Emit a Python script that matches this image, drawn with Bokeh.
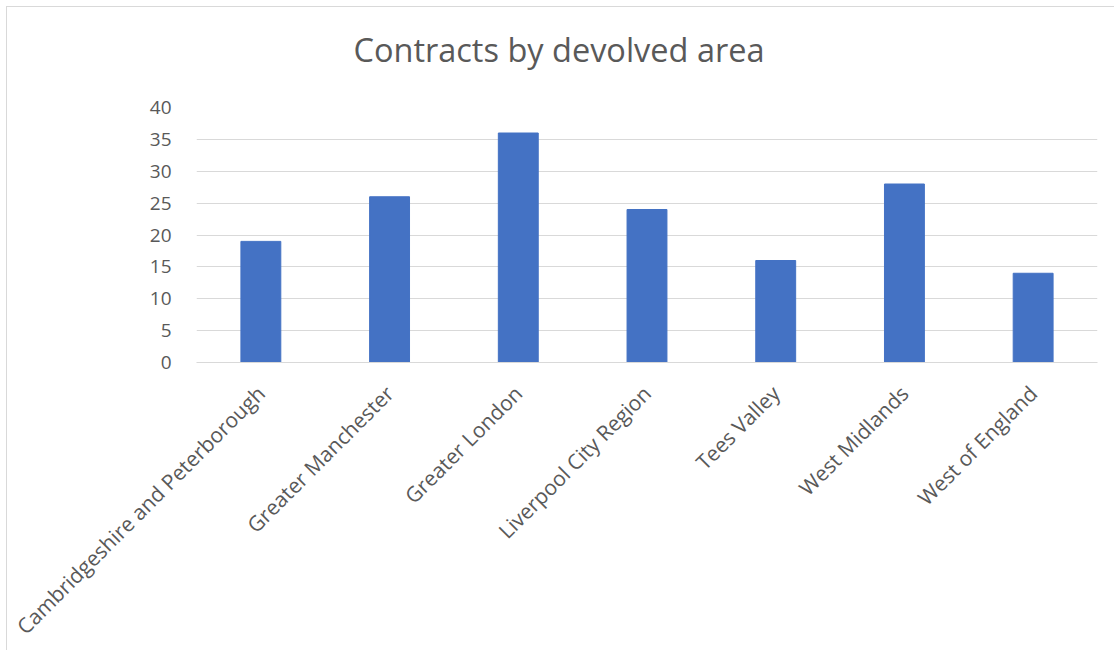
from math import pi
from bokeh.plotting import figure
from bokeh.models import ColumnDataSource, Range1d, FixedTicker, Div
from bokeh.layouts import column
from bokeh.embed import file_html
from bokeh.resources import INLINE

areas = ["Cambridgeshire and Peterborough", "Greater Manchester", "Greater London",
         "Liverpool City Region", "Tees Valley", "West Midlands", "West of England"]
contracts = [19, 26, 36, 24, 16, 28, 14]
y_ticks = [0, 5, 10, 15, 20, 25, 30, 35, 40]
title_text = "Contracts by devolved area"

FONT = "Open Sans"
TXT = "#595959"
GRID = "#d9d9d9"

src = ColumnDataSource(data=dict(area=areas, n=contracts))

title = Div(text=title_text, width=1100, height=70,
            styles={"font-family": FONT, "font-size": "32.5px", "color": TXT,
                    "text-align": "center", "line-height": "44px",
                    "padding-top": "16px", "padding-right": "6px",
                    "box-sizing": "border-box"})

p = figure(x_range=areas, y_range=Range1d(0, 40), width=1100, height=573,
           output_backend="svg", toolbar_location=None,
           min_border_left=189, min_border_right=10, min_border_top=20, min_border_bottom=298)

p.vbar(x="area", top="n", width=0.31, source=src, fill_color="#4472c4", line_color="#4472c4")

p.outline_line_color = None
p.xgrid.grid_line_color = None
p.ygrid.grid_line_color = GRID
p.ygrid.ticker = FixedTicker(ticks=y_ticks)

p.yaxis.ticker = FixedTicker(ticks=y_ticks)
p.yaxis.axis_line_color = None
p.yaxis.major_tick_line_color = None
p.yaxis.minor_tick_line_color = None
p.yaxis.major_label_text_font = FONT
p.yaxis.major_label_text_font_size = "19px"
p.yaxis.major_label_text_color = TXT
p.yaxis.major_label_standoff = 19

p.xaxis.axis_line_color = GRID
p.xaxis.major_tick_line_color = None
p.xaxis.minor_tick_line_color = None
p.xaxis.major_label_orientation = pi / 4
p.xaxis.major_label_text_font = FONT
p.xaxis.major_label_text_font_size = "21px"
p.xaxis.major_label_text_color = TXT
p.xaxis.major_label_standoff = 21

layout = column(title, p, spacing=0,
                styles={"border": "1px solid #d9d9d9", "margin": "6px"})

open("out.html", "w").write(file_html(layout, INLINE))
